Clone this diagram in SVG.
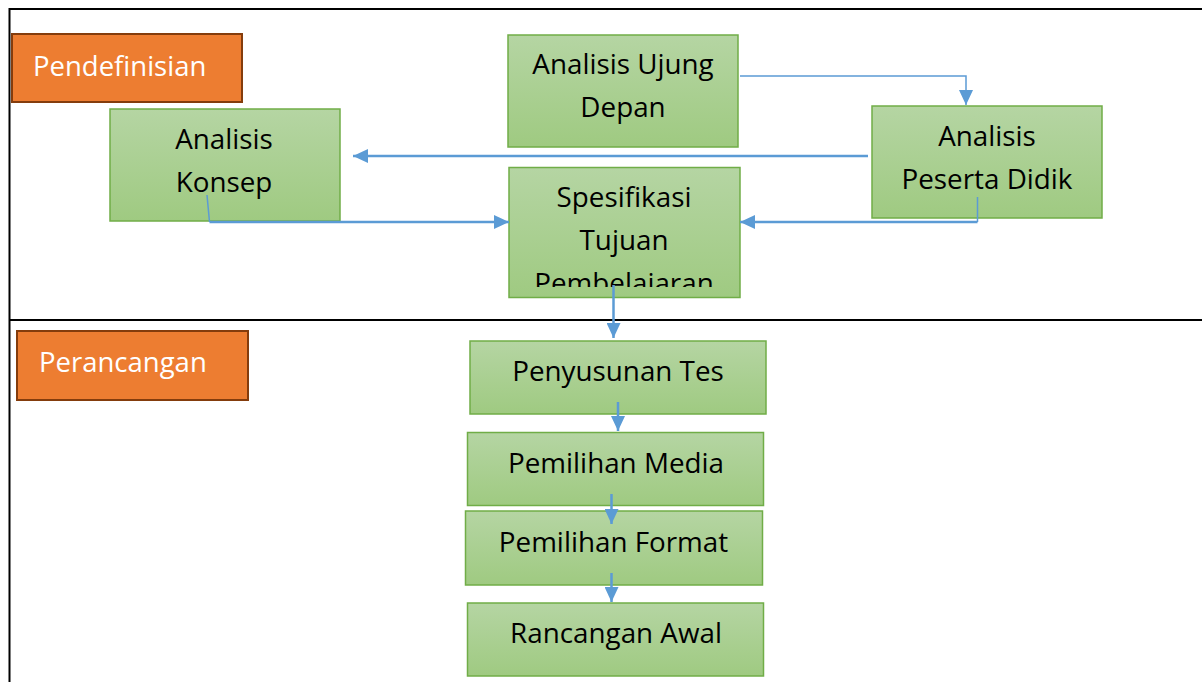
<svg xmlns="http://www.w3.org/2000/svg" width="1202" height="682" viewBox="0 0 1202 682">
<style>
.frame{stroke:#000;stroke-width:2;fill:none}
.node{fill:url(#g);stroke:#70AD47;stroke-width:1.5}
.phase{fill:#ED7D31;stroke:#843C0C;stroke-width:2}
.t{font-family:"Open Sans","Noto Sans","Liberation Sans",sans-serif;font-size:27.8px;fill:#000;text-anchor:middle}
.pt{font-family:"Open Sans","Noto Sans","Liberation Sans",sans-serif;font-size:27.5px;fill:#fff}
.c{stroke:#5B9BD5;stroke-width:2.5;fill:none;marker-end:url(#a)}
.c2{stroke:#5B9BD5;stroke-width:1.5;fill:none;marker-end:url(#a)}
.s{stroke:#5B9BD5;stroke-width:1.5;fill:none}
</style>
<defs>
<linearGradient id="g" x1="0" y1="0" x2="0" y2="1">
<stop offset="0" stop-color="#B5D5A3"/>
<stop offset="1" stop-color="#9FCA81"/>
</linearGradient>
<marker id="a" markerUnits="userSpaceOnUse" markerWidth="16" markerHeight="14" refX="15" refY="7" orient="auto">
<path d="M0,0 L15,7 L0,14 Z" fill="#5B9BD5"/>
</marker>
<clipPath id="clipSpes"><rect x="509" y="167" width="231" height="120"/></clipPath>
</defs>
<rect width="1202" height="682" fill="#fff"/>
<g id="frame">
<path class="frame" d="M9.5,682 V9 H1202"/>
<path class="frame" d="M9.5,320 H1202"/>
</g>
<g id="pendefinisian">
<rect class="phase" x="12" y="34" width="230" height="68"/>
<text class="pt" x="33" y="76">Pendefinisian</text>
</g>
<g id="perancangan">
<rect class="phase" x="17" y="331" width="231" height="69"/>
<text class="pt" x="39" y="372">Perancangan</text>
</g>
<g id="analisis-ujung-depan">
<rect class="node" x="508" y="35" width="230" height="112"/>
<text class="t" x="623" y="74">Analisis Ujung</text>
<text class="t" x="623" y="117">Depan</text>
</g>
<g id="analisis-konsep">
<rect class="node" x="110" y="109" width="230" height="112"/>
<text class="t" x="224" y="149">Analisis</text>
<text class="t" x="224" y="192">Konsep</text>
</g>
<g id="analisis-peserta-didik">
<rect class="node" x="872" y="106" width="230" height="112"/>
<text class="t" x="987" y="146">Analisis</text>
<text class="t" x="987" y="189">Peserta Didik</text>
</g>
<g id="spesifikasi">
<rect class="node" x="509" y="167.5" width="231" height="130"/>
<g clip-path="url(#clipSpes)">
<text class="t" x="624" y="207">Spesifikasi</text>
<text class="t" x="624" y="250">Tujuan</text>
<text class="t" x="624" y="293">Pembelajaran</text>
</g>
</g>
<g id="penyusunan-tes">
<rect class="node" x="470" y="341" width="296" height="73"/>
<text class="t" x="618" y="381">Penyusunan Tes</text>
</g>
<g id="pemilihan-media">
<rect class="node" x="467.5" y="432.5" width="296" height="73"/>
<text class="t" x="616" y="473">Pemilihan Media</text>
</g>
<g id="pemilihan-format">
<rect class="node" x="465.5" y="511" width="297" height="74"/>
<text class="t" x="613.5" y="552">Pemilihan Format</text>
</g>
<g id="rancangan-awal">
<rect class="node" x="467.5" y="603" width="296" height="73"/>
<text class="t" x="616" y="643">Rancangan Awal</text>
</g>
<g id="connectors">
<path class="c2" d="M740,76 H966 V105"/>
<path class="c" d="M868,156 H353"/>
<path class="s" d="M207,195 L209.5,222"/>
<path class="c" d="M209.5,222 H509"/>
<path class="s" d="M977.5,197 V222"/>
<path class="c" d="M977.5,222 H740"/>
<path class="c" d="M613.5,285 V338"/>
<path class="c" d="M618,402 V431"/>
<path class="c" d="M611.5,494 V524"/>
<path class="c" d="M611.5,573 V602"/>
</g>
</svg>
